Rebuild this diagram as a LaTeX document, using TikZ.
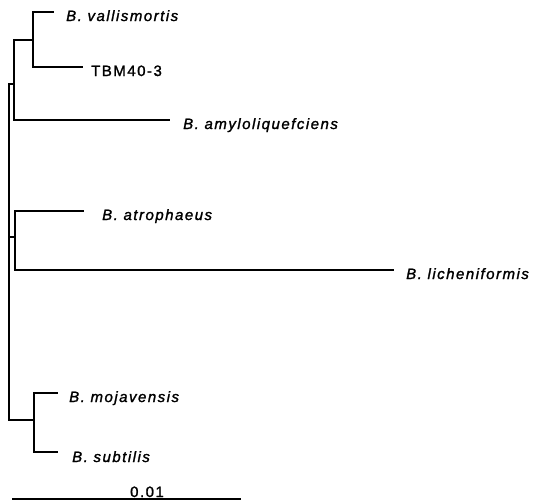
\documentclass[tikz,border=0pt]{standalone}
\usepackage{fontspec}
\newfontfamily\labfont[LetterSpace=10,FakeBold=1.5]{Liberation Sans}
\begin{document}
\begin{tikzpicture}[x=1pt,y=1pt,
  branch/.style={line width=2.8pt, line join=miter, line cap=rect},
  lab/.style={font=\labfont\fontsize{15}{15}\selectfont\itshape, inner sep=0pt, anchor=base west},
  labup/.style={font=\labfont\fontsize{15}{15}\selectfont, inner sep=0pt, anchor=base west}]
\useasboundingbox (0,0) rectangle (533,-501);
% internal nodes
\coordinate (c1) at (33,-40);
\coordinate (c2) at (14,-84);
\coordinate (c3) at (15,-237);
\coordinate (c4) at (34,-420);
\coordinate (root) at (9,-237);
% leaf ends
\coordinate (vallis) at (53,-12);
\coordinate (tbm) at (82,-67);
\coordinate (amylo) at (169,-120);
\coordinate (atro) at (83,-211);
\coordinate (lich) at (393,-270);
\coordinate (moja) at (57,-393);
\coordinate (subt) at (57,-452);
% labels
\node[lab] (Lvallis) at ([xshift=13pt,yshift=-9pt]vallis) {B. vallismortis};
\node[labup] (Ltbm) at ([xshift=9pt,yshift=-9pt]tbm) {TBM40-3};
\node[lab] (Lamylo) at ([xshift=14pt,yshift=-9pt]amylo) {B. amyloliquefciens};
\node[lab] (Latro) at ([xshift=19pt,yshift=-9pt]atro) {B. atrophaeus};
\node[lab] (Llich) at ([xshift=13pt,yshift=-9pt]lich) {B. licheniformis};
\node[lab] (Lmoja) at ([xshift=12pt,yshift=-9pt]moja) {B. mojavensis};
\node[lab] (Lsubt) at ([xshift=15pt,yshift=-10pt]subt) {B. subtilis};
% branches
\draw[branch] (c1) |- (vallis);
\draw[branch] (c1) |- (tbm);
\draw[branch] (c2) |- (c1);
\draw[branch] (c2) |- (amylo);
\draw[branch] (c3) |- (atro);
\draw[branch] (c3) |- (lich);
\draw[branch] (c4) |- (moja);
\draw[branch] (c4) |- (subt);
\draw[branch] (root) |- (c2);
\draw[branch] (root) -- (c3);
\draw[branch] (root) |- (c4);
% scale bar
\coordinate (sb1) at (12,-499);
\coordinate (sb2) at (241,-499);
\draw[branch, line cap=butt] (sb1) -- (sb2);
\node[labup, anchor=base] (Lscale) at (147,-497) {0.01};
\end{tikzpicture}
\end{document}
